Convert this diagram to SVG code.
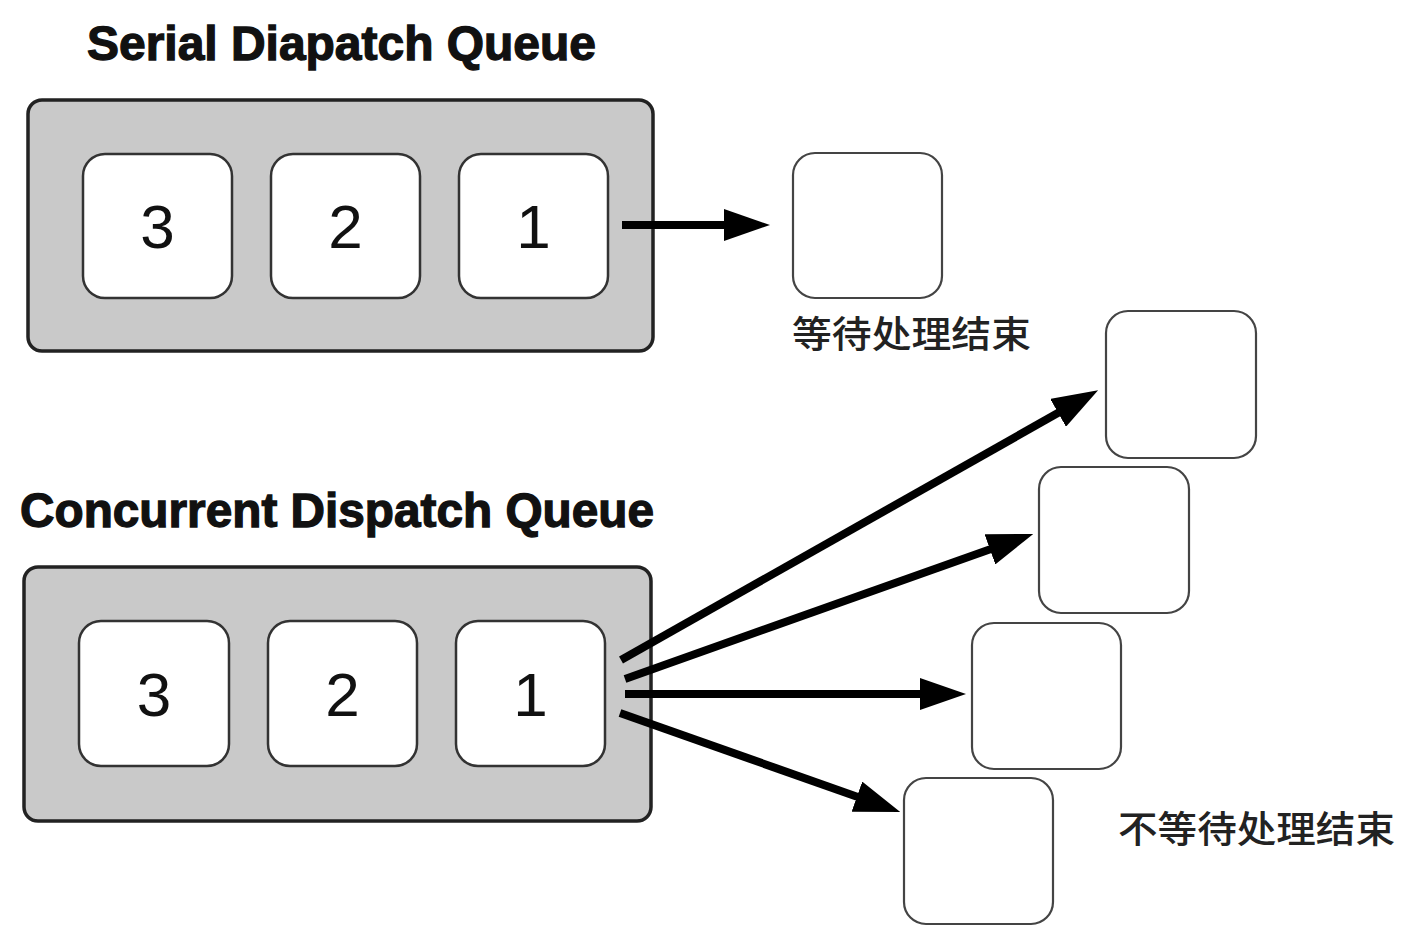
<svg xmlns="http://www.w3.org/2000/svg" width="1402" height="936" viewBox="0 0 1402 936">
<style>
.title{font-family:"Liberation Sans",Arial,sans-serif;font-weight:bold;font-size:48px;fill:#111;stroke:#111;stroke-width:1.3}
.queue{fill:#c9c9c9;stroke:#222;stroke-width:3.5}
.item{fill:#fff;stroke:#333;stroke-width:2.5}
.result{fill:#fff;stroke:#444;stroke-width:2.2}
.num{font-family:"Liberation Sans",Arial,sans-serif;font-size:62px;fill:#111;text-anchor:middle}
.cn{font-family:"Noto Sans CJK SC","Noto Sans",sans-serif;font-size:37px;font-weight:500;fill:#222}
.arrow{stroke:#000;stroke-width:8;fill:none;marker-end:url(#head)}
</style>
<defs>
<marker id="head" viewBox="0 0 46 32" refX="16" refY="16" markerWidth="46" markerHeight="32" markerUnits="userSpaceOnUse" orient="auto">
<path d="M0,0 L46,16 L0,32 z" fill="#000"/>
</marker>
</defs>
<rect width="1402" height="936" fill="#fff"/>

<g id="serial-queue">
<text class="title" x="87" y="60" textLength="509" lengthAdjust="spacingAndGlyphs">Serial Diapatch Queue</text>
<rect class="queue" x="28" y="100" width="625" height="251" rx="14"/>
<g id="serial-3"><rect class="item" x="83" y="154" width="149" height="144" rx="22"/><text class="num" x="157.5" y="248">3</text></g>
<g id="serial-2"><rect class="item" x="271" y="154" width="149" height="144" rx="22"/><text class="num" x="345.5" y="248">2</text></g>
<g id="serial-1"><rect class="item" x="459" y="154" width="149" height="144" rx="22"/><text class="num" x="533.5" y="248">1</text></g>
</g>

<g id="serial-result">
<rect class="result" x="793" y="153" width="149" height="145" rx="22"/>
<text class="cn" x="792" y="348" textLength="239" lengthAdjust="spacingAndGlyphs">等待处理结束</text>
</g>

<g id="concurrent-queue">
<text class="title" x="20" y="527" textLength="634" lengthAdjust="spacingAndGlyphs">Concurrent Dispatch Queue</text>
<rect class="queue" x="24" y="567" width="627" height="254" rx="14"/>
<g id="conc-3"><rect class="item" x="79" y="621" width="150" height="145" rx="22"/><text class="num" x="154" y="716">3</text></g>
<g id="conc-2"><rect class="item" x="268" y="621" width="149" height="145" rx="22"/><text class="num" x="342.5" y="716">2</text></g>
<g id="conc-1"><rect class="item" x="456" y="621" width="149" height="145" rx="22"/><text class="num" x="530.5" y="716">1</text></g>
</g>

<g id="conc-result-1"><rect class="result" x="1106" y="311" width="150" height="147" rx="22"/></g>
<g id="conc-result-2"><rect class="result" x="1039" y="467" width="150" height="146" rx="22"/></g>
<g id="conc-result-3"><rect class="result" x="972" y="623" width="149" height="146" rx="22"/></g>
<g id="conc-result-4"><rect class="result" x="904" y="778" width="149" height="146" rx="22"/></g>
<g id="conc-label"><text class="cn" x="1118" y="843" textLength="277" lengthAdjust="spacingAndGlyphs">不等待处理结束</text></g>

<g id="connectors">
<line class="arrow" x1="622" y1="225" x2="740" y2="225"/>
<line class="arrow" x1="621" y1="660" x2="1072" y2="405"/>
<line class="arrow" x1="625" y1="679" x2="1005" y2="544"/>
<line class="arrow" x1="625" y1="694" x2="936" y2="694"/>
<line class="arrow" x1="620" y1="713" x2="872" y2="802"/>
</g>
</svg>
